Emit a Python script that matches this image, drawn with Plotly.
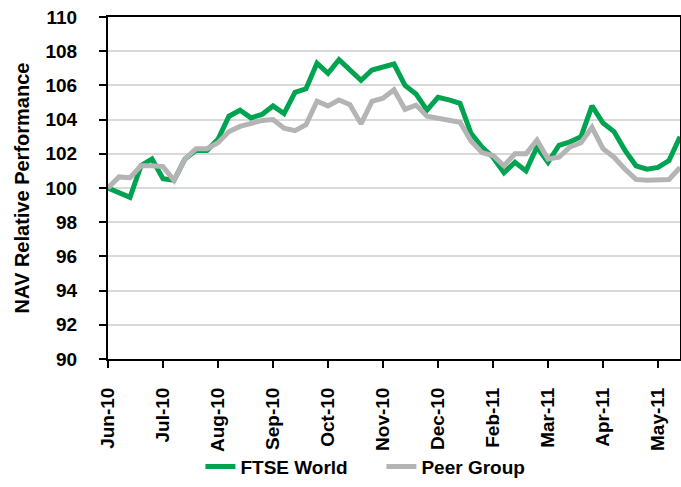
import plotly.graph_objects as go

week_index = list(range(53))
tick_positions = [0, 5, 10, 15, 20, 25, 30, 35, 40, 45, 50]
tick_labels = ["Jun-10", "Jul-10", "Aug-10", "Sep-10", "Oct-10", "Nov-10",
               "Dec-10", "Feb-11", "Mar-11", "Apr-11", "May-11"]

ftse_world = [100.0, 99.75, 99.45, 101.3, 101.7, 100.55, 100.45, 101.7, 102.2, 102.2,
              102.85, 104.2, 104.55, 104.1, 104.3, 104.8, 104.35, 105.6, 105.8, 107.3,
              106.7, 107.5, 106.85, 106.3, 106.9, 107.1, 107.25, 106.0, 105.5, 104.55,
              105.3, 105.15, 104.95, 103.2, 102.4, 101.8, 100.9, 101.5, 101.0, 102.4,
              101.5, 102.5, 102.7, 103.0, 104.8, 103.8, 103.3, 102.2, 101.3, 101.1,
              101.2, 101.6, 103.0]

peer_group = [100.0, 100.65, 100.6, 101.3, 101.3, 101.25, 100.45, 101.7, 102.3, 102.3,
              102.65, 103.3, 103.6, 103.8, 103.95, 104.0, 103.5, 103.35, 103.7, 105.07,
              104.8, 105.15, 104.87, 103.75, 105.07, 105.25, 105.75, 104.6, 104.85, 104.2,
              104.1, 103.95, 103.85, 102.75, 102.07, 101.9, 101.3, 102.0, 102.0, 102.8,
              101.7, 101.8, 102.4, 102.65, 103.55, 102.3, 101.8, 101.1, 100.5, 100.45,
              100.45, 100.5, 101.2]

green = "#00A34F"
grey = "#B4B4B4"
font_family = "Liberation Sans, Arial, sans-serif"

fig = go.Figure()
fig.add_trace(go.Scatter(x=week_index, y=ftse_world, mode="lines", name="FTSE World",
                         line=dict(color=green, width=5)))
fig.add_trace(go.Scatter(x=week_index, y=peer_group, mode="lines", name="Peer Group",
                         line=dict(color=grey, width=5)))

fig.update_layout(
    width=681, height=487,
    margin=dict(l=108, r=1, t=17, b=124),
    paper_bgcolor="white", plot_bgcolor="white",
    font=dict(family=font_family, color="black"),
    showlegend=True,
    legend=dict(orientation="h", x=0.478, xanchor="center", y=-0.315, yanchor="middle",
                font=dict(family=font_family, size=19, weight="bold"),
                entrywidth=136, bgcolor="rgba(0,0,0,0)", tracegroupgap=0),
)

fig.update_xaxes(
    range=[0, 52], tickmode="array", tickvals=tick_positions, ticktext=tick_labels,
    tickangle=-90, ticks="outside", ticklen=7, tickwidth=2, tickcolor="black",
    showline=True, linecolor="black", linewidth=2, mirror=True,
    showgrid=False, zeroline=False, automargin=False,
    tickfont=dict(family=font_family, size=19, weight="bold"),
    ticklabelstandoff=12,
)
fig.update_yaxes(
    range=[90, 110], tickmode="linear", tick0=90, dtick=2,
    ticks="outside", ticklen=7, tickwidth=2, tickcolor="black",
    showline=True, linecolor="black", linewidth=2, mirror=True,
    showgrid=True, gridcolor="#D9D9D9", gridwidth=2, zeroline=False, automargin=False,
    tickfont=dict(family=font_family, size=19, weight="bold"),
    ticklabelstandoff=18,
    title=dict(text="NAV Relative Performance",
               font=dict(family=font_family, size=20, weight="bold"), standoff=10),
)

fig.write_html("out.html", post_script="document.body.style.margin='0';",
               config={"displayModeBar": False})
